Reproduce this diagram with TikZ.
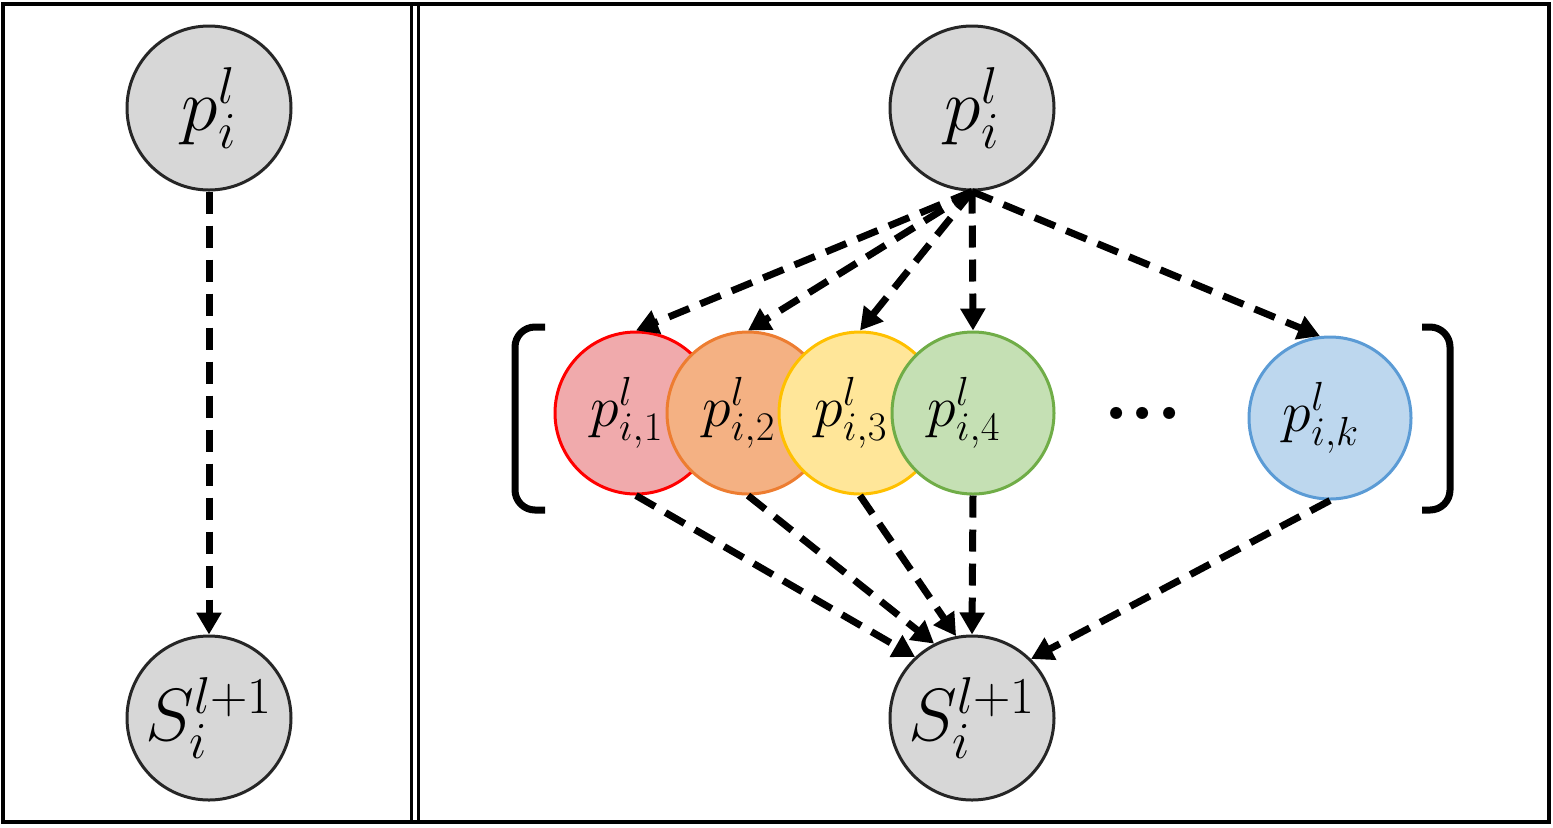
\documentclass[tikz,border=0pt]{standalone}
\usepackage{fix-cm}
\usetikzlibrary{arrows.meta}
\definecolor{nodegray}{RGB}{215,215,215}
\definecolor{redfill}{RGB}{240,170,172}
\definecolor{orangefill}{RGB}{244,177,131}
\definecolor{orangeline}{RGB}{237,125,49}
\definecolor{yellowfill}{RGB}{255,230,153}
\definecolor{yellowline}{RGB}{255,192,0}
\definecolor{greenfill}{RGB}{197,224,180}
\definecolor{greenline}{RGB}{112,173,71}
\definecolor{bluefill}{RGB}{189,215,238}
\definecolor{blueline}{RGB}{91,155,213}
\tikzset{
  var/.style={circle, draw=black!85, fill=nodegray, line width=1.5pt, minimum size=82pt, inner sep=0pt, font=\fontsize{37}{40}\selectfont},
  part/.style={circle, line width=1.5pt, minimum size=81pt, inner sep=0pt, font=\fontsize{29}{32}\selectfont, execute at end node={\hspace{9pt}}},
  flow/.style={line width=3.5pt, dash pattern=on 11pt off 6pt, -{Triangle[length=11pt,width=12pt]}},
  brace/.style={line width=3.5pt, rounded corners=10pt},
}

\begin{document}
\begin{tikzpicture}[x=50pt,y=-50pt]
\useasboundingbox (0,0) rectangle (15.53,8.27);
% frame and divider
\draw[line width=2pt] (0.03,0.04) rectangle (15.49,8.22);
\draw[line width=1.5pt] (4.11,0.04) -- (4.11,8.22);
\draw[line width=1.5pt] (4.185,0.04) -- (4.185,8.22);

% left panel
\node[var] (p1) at (2.09,1.08) {$p_i^l$};
\node[var] (s1) at (2.09,7.18) {$S_i^{l+1}$};
\draw[flow] (p1.south) -- (s1.north);

% right panel
\node[var] (p2) at (9.72,1.08) {$p_i^l$};
\node[var] (s2) at (9.72,7.18) {$S_i^{l+1}$};
\node[part, draw=red, fill=redfill] (q1) at (6.36,4.13) {$p_{i,1}^l$};
\node[part, draw=orangeline, fill=orangefill] (q2) at (7.48,4.13) {$p_{i,2}^l$};
\node[part, draw=yellowline, fill=yellowfill] (q3) at (8.60,4.13) {$p_{i,3}^l$};
\node[part, draw=greenline, fill=greenfill] (q4) at (9.73,4.13) {$p_{i,4}^l$};
\node[font=\fontsize{42}{44}\selectfont\bfseries, anchor=base] (dots) at (11.43,4.19) {...};
\node[part, draw=blueline, fill=bluefill] (qk) at (13.30,4.18) {$p_{i,k}^l$};

% brackets
\draw[brace] (5.45,3.27) -- (5.15,3.27) -- (5.15,5.10) -- (5.45,5.10);
\draw[brace] (14.22,3.27) -- (14.50,3.27) -- (14.50,5.10) -- (14.22,5.10);

% arrows in
\draw[flow] (p2.south) -- (q1.north);
\draw[flow] (p2.south) -- (q2.north);
\draw[flow] (p2.south) -- (q3.north);
\draw[flow] (p2.south) -- (q4.north);
\draw[flow] (p2.south) -- (qk.97);

% arrows out
\draw[flow] (q1.south) -- (s2.133);
\draw[flow] (q2.south) -- (s2.117);
\draw[flow] (q3.south) -- (s2.101);
\draw[flow] (q4.south) -- (s2.north);
\draw[flow] (qk.south) -- (s2.45);
\end{tikzpicture}
\end{document}
